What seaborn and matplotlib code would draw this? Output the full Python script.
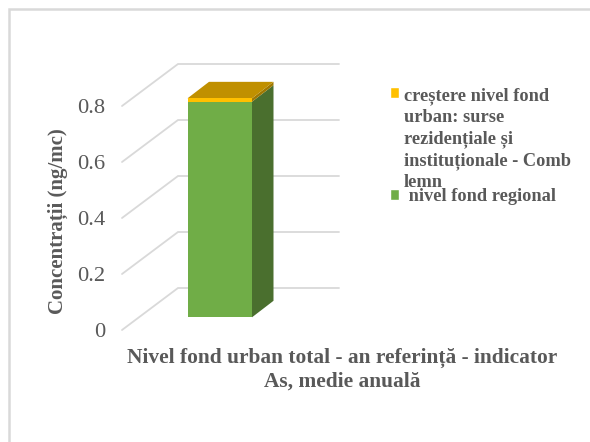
import matplotlib
matplotlib.use("Agg")
import matplotlib.pyplot as plt
from matplotlib.lines import Line2D
from matplotlib.patches import Polygon, Patch
from matplotlib.transforms import ScaledTranslation
import seaborn as sns
import pandas as pd

categories = ["Nivel fond urban total - an referință - indicator\nAs, medie anuală"]
regional = [0.77]
increase = [0.012]
yticks = [0, 0.2, 0.4, 0.6, 0.8]
ylabel = "Concentrații (ng/mc)"
label_increase = "creștere nivel fond\nurban: surse\nrezidențiale și\ninstituționale - Comb\nlemn"
label_regional = " nivel fond regional"

sns.set_theme(style="white")
plt.rcParams["font.family"] = ["Liberation Serif", "DejaVu Serif"]

W, H = 590, 442
GREY = "#595959"
fig = plt.figure(figsize=(W / 100, H / 100), dpi=100)
# axes in pixels: front plane of the value axis
L, R, B, T = 122, 283, 330, 106
ax = fig.add_axes([L / W, 1 - B / H, (R - L) / W, (B - T) / H])
ax.set_ylim(0, 0.8)
ax.patch.set_alpha(0)

df = pd.DataFrame({"cat": categories * 2, "val": [regional[0], regional[0] + increase[0]],
                   "s": ["r", "i"]})
sns.barplot(data=df[df.s == "i"], x="cat", y="val", color="#FFC000", saturation=1, width=0.4, ax=ax)
sns.barplot(data=df[df.s == "r"], x="cat", y="val", color="#70AD47", saturation=1, width=0.4, ax=ax)
ax.set_ylim(0, 0.8)
ax.set_xlim(-0.5, 0.5)

px_x = (R - L)
px_y = (B - T) / 0.8
to_fig = fig.dpi_scale_trans

def shift(dx, dy):
    return ScaledTranslation(dx / 100, -dy / 100, to_fig)

bar_w = 64.5
bar_cx = 219.75
plane_dx = bar_cx - (L + R) / 2
plane_dy = 317.3 - B
for p in ax.patches:
    p.set_width(bar_w / px_x)
    p.set_x(-bar_w / px_x / 2)
    p.set_transform(ax.transData + shift(plane_dx, plane_dy))
    p.set_clip_on(False)
    p.set_zorder(4)
    p.set_linewidth(0)

for v in yticks:
    ax.plot([-0.5, -0.5 + 56 / px_x, -0.5 + 217 / px_x], [v, v + 42 / px_y, v + 42 / px_y],
            color="#D9D9D9", lw=1.3, clip_on=False, zorder=1, solid_joinstyle="miter")

dep_x, dep_y = 21.5 / px_x, 16.5 / px_y
hw = bar_w / px_x / 2
r, t = regional[0], regional[0] + increase[0]
tr = ax.transData + shift(plane_dx, plane_dy)
ax.add_patch(Polygon([(hw, 0), (hw + dep_x, dep_y), (hw + dep_x, r + dep_y), (hw, r)],
                     fc="#4A6F2E", lw=0, transform=tr, clip_on=False, zorder=3))
ax.add_patch(Polygon([(hw, r), (hw + dep_x, r + dep_y), (hw + dep_x, t + dep_y), (hw, t)],
                     fc="#A07800", lw=0, transform=tr, clip_on=False, zorder=3))
ax.add_patch(Polygon([(-hw, t), (hw, t), (hw + dep_x, t + dep_y), (-hw + dep_x, t + dep_y)],
                     fc="#C09000", lw=0, transform=tr, clip_on=False, zorder=3))

sns.despine(ax=ax, left=True, bottom=True)
ax.set_yticks(yticks)
ax.set_yticklabels(["0", "0.2", "0.4", "0.6", "0.8"], fontsize=16.2, color=GREY)
ax.tick_params(axis="y", length=0, pad=12)
ax.set_xticks([])
ax.set_xlabel("")
ax.set_ylabel("")
ax.grid(False)

fig.text(58 / W, 1 - 221 / H, ylabel, rotation=90, ha="center", va="center",
         fontsize=15, fontweight="bold", color=GREY)
fig.text(342 / W, 1 - 370 / H, categories[0], ha="center", va="center",
         fontsize=15.4, fontweight="bold", color=GREY, linespacing=1.25)

handles = [Patch(fc="#FFC000"), Patch(fc="#70AD47")]
leg = fig.legend(handles, [label_increase, label_regional], loc="upper left",
                 bbox_to_anchor=(389.5 / W, 1 - 87 / H), frameon=False,
                 prop={"size": 13.2, "weight": "bold"}, labelcolor=GREY,
                 handlelength=0.5, handleheight=0.55, handletextpad=0.27,
                 labelspacing=-0.16, borderpad=0, borderaxespad=0)
for txt in leg.get_texts():
    txt.set_linespacing(1.32)
# handle of the wrapped entry sits beside its first line
h0 = leg.legend_handles[0]
h0.set_y(h0.get_y() + 33.5)

# outer chart frame: only its left and top edges fall inside the picture
fig.add_artist(Line2D([9 / W, 9 / W, 1], [0, 1 - 9 / H, 1 - 9 / H], color="#D9D9D9", lw=1.8,
                      transform=fig.transFigure, solid_joinstyle="miter"))
fig.savefig("out.png", dpi=100)
